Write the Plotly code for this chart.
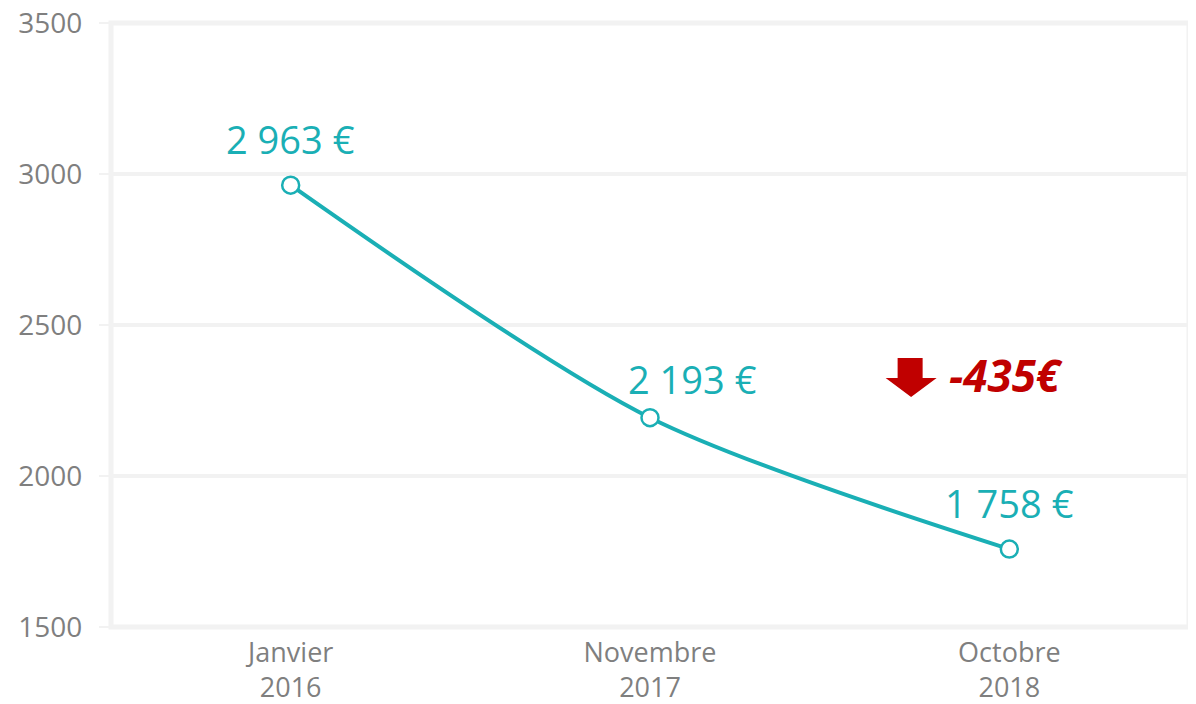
import plotly.graph_objects as go

categories = ["Janvier<br>2016", "Novembre<br>2017", "Octobre<br>2018"]
values = [2963, 2193, 1758]
value_labels = ["2 963 €", "2 193 €", "1 758 €"]
y_ticks = [1500, 2000, 2500, 3000, 3500]
delta_label = "-435€"

TEAL = "#1AAFB5"
GRAY = "#7F7F7F"
GRID = "#F2F2F2"
RED = "#C00000"
FONT = "Open Sans"

label_xshift = [0, 42, 0]
label_yshift = [46, 39, 46]

fig = go.Figure()
fig.add_trace(go.Scatter(
    x=categories, y=values, mode="lines+markers",
    line=dict(color=TEAL, width=4, shape="spline", smoothing=0.8),
    marker=dict(size=17, color="white", line=dict(color=TEAL, width=2.5)),
    hoverinfo="skip", showlegend=False,
))

for c, v, t, xs, ys in zip(categories, values, value_labels, label_xshift, label_yshift):
    fig.add_annotation(x=c, y=v, text=t, showarrow=False, xshift=xs, yshift=ys,
                       font=dict(family=FONT, size=38, color=TEAL),
                       xanchor="center", yanchor="middle")

# border of plot area
fig.add_shape(type="rect", xref="paper", yref="paper", x0=0, x1=1, y0=0, y1=1,
              line=dict(color=GRID, width=5), layer="below")

# red down arrow
fig.add_shape(type="path", xref="paper", yref="paper",
              path="M 0.7297 0.4455 L 0.7529 0.4455 L 0.7529 0.4124 L 0.7659 0.4124 "
                   "L 0.7422 0.381 L 0.7186 0.4124 L 0.7297 0.4124 Z",
              fillcolor=RED, line=dict(width=0))
fig.add_annotation(xref="paper", yref="paper", x=0.7752, y=0.4174, text="<b><i>" + delta_label + "</i></b>",
                   showarrow=False, xanchor="left", yanchor="middle",
                   font=dict(family=FONT, size=44, color=RED))

# the page body adds an 8px offset; compensate in size and margins
fig.update_layout(
    width=1188, height=696,
    margin=dict(l=103, r=6.5, t=14.5, b=76.5),
    paper_bgcolor="white", plot_bgcolor="white",
    font=dict(family=FONT, color=GRAY),
)
fig.update_xaxes(type="category", range=[-0.5, 2.5], showgrid=False, zeroline=False, automargin=False,
                 showline=False, ticks="", ticklabelstandoff=7, tickfont=dict(size=27, color=GRAY))
fig.update_yaxes(range=[1500, 3500], tickvals=y_ticks, showgrid=True, gridcolor=GRID, gridwidth=4,
                 zeroline=False, showline=False, ticks="outside", ticklen=11, tickwidth=2, automargin=False,
                 ticklabeloverflow="allow",
                 tickcolor=GRID, ticklabelstandoff=11, tickfont=dict(size=28, color=GRAY))

fig.write_html("out.html")
